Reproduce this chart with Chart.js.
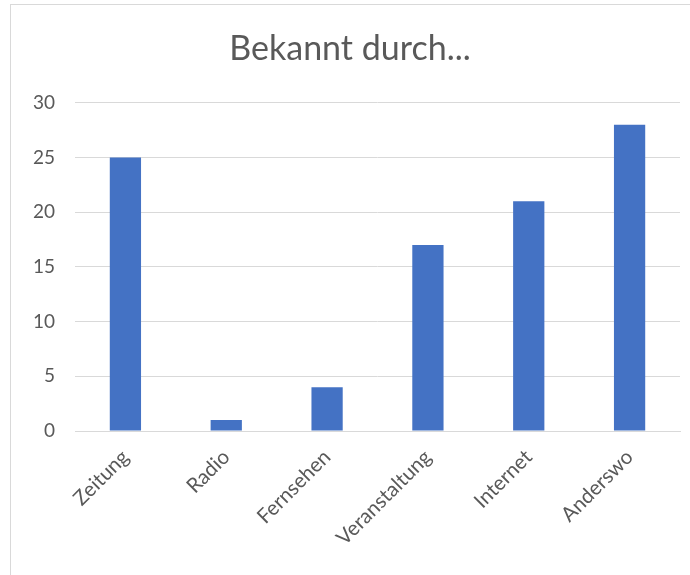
<!DOCTYPE html>
<html>
<head>
<meta charset="utf-8">
<script src="https://cdn.jsdelivr.net/npm/chart.js@4"></script>
<style>
  html, body { margin: 0; padding: 0; background: #ffffff; }
  #wrap { position: relative; width: 690px; height: 575px; overflow: hidden; }
  #frame {
    position: absolute; left: 10px; top: 4px; width: 720px; height: 620px;
    border: 1px solid #d9d9d9; box-sizing: border-box;
  }
  canvas { position: absolute; left: 0; top: 0; }
</style>
</head>
<body>
<div id="wrap">
  <div id="frame"></div>
  <canvas id="chart" width="690" height="575"></canvas>
</div>
<script>
// data
const categories = ["Zeitung", "Radio", "Fernsehen", "Veranstaltung", "Internet", "Anderswo"];
const counts     = [25, 1, 4, 17, 21, 28];
const yTicks     = [0, 5, 10, 15, 20, 25, 30];

const TEXT = "#595959";
const GRID = "#d9d9d9";
const FONT = "Lato, 'Open Sans', sans-serif";

new Chart(document.getElementById("chart"), {
  type: "bar",
  data: {
    labels: categories,
    datasets: [{
      data: counts,
      backgroundColor: "#4472c4",
      borderWidth: 0,
      categoryPercentage: 1,
      barPercentage: 0.31,
    }],
  },
  options: {
    responsive: false,
    animation: false,
    layout: { padding: { left: 20, right: 10, top: 4, bottom: 4 } },
    plugins: {
      legend: { display: false },
      tooltip: { enabled: false },
      title: {
        display: true,
        text: "Bekannt durch...",
        color: TEXT,
        font: { family: FONT, size: 34, weight: "normal" },
        padding: { top: 25, bottom: 33 },
      },
    },
    scales: {
      x: {
        grid: { display: false, drawTicks: false },
        border: { color: GRID, width: 1 },
        ticks: {
          color: TEXT,
          font: { family: FONT, size: 20.5 },
          minRotation: 45,
          maxRotation: 45,
          padding: 14,
        },
        afterFit: (s) => { s.height = 140; },
      },
      y: {
        min: 0,
        max: 30,
        afterBuildTicks: (s) => { s.ticks = yTicks.map((v) => ({ value: v })); },
        grid: { color: GRID, lineWidth: 1, drawTicks: false },
        border: { display: false },
        ticks: {
          color: TEXT,
          font: { family: FONT, size: 19 },
          padding: 20,
        },
        afterFit: (s) => { s.width = 55; },
      },
    },
  },
});
</script>
</body>
</html>
